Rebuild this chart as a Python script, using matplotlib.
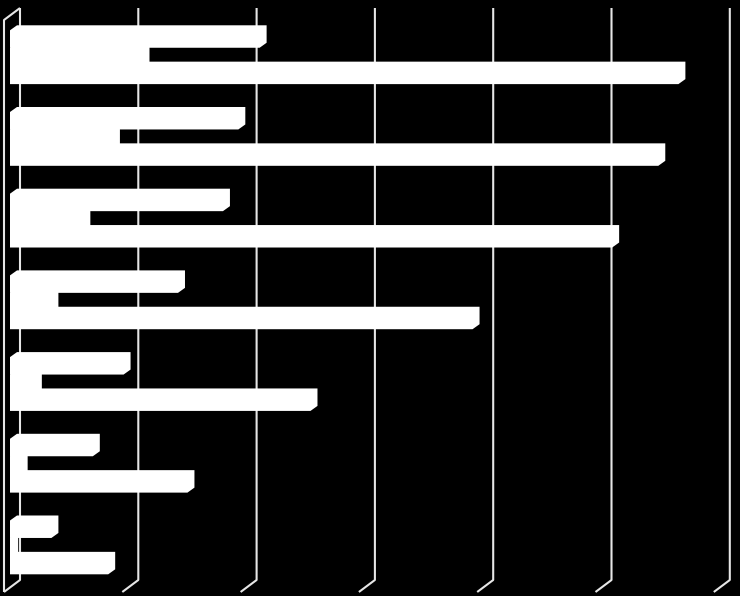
import matplotlib
matplotlib.use("Agg")
import matplotlib.pyplot as plt
import numpy as np

# values (gridlines assumed every 10 units)
categories = ["1", "2", "3", "4", "5", "6", "7"]
series_a = [21.1, 19.3, 18.0, 14.2, 9.6, 7.0, 3.5]   # upper bar
series_b = [11.2, 8.7, 6.2, 3.5, 2.1, 0.9, 0.1]      # middle bar
series_c = [56.5, 54.8, 50.9, 39.1, 25.4, 15.0, 8.3] # lower, long bar
grid_values = [0, 10, 20, 30, 40, 50, 60]

PX_X = 11.83   # pixels per value unit
PX_Y = 81.7    # pixels per category
DX, DY = 7 / PX_X, 5 / PX_Y          # bar depth
WX, WY = 16 / PX_X, 12 / PX_Y        # wall depth
BACK = 10 / PX_X                     # back wall shift
H = 0.275


def bar3d(ax, v, yc, h):
    top, bot = yc - h / 2, yc + h / 2
    xs = [0, 0, DX, v + DX, v + DX, v]
    ys = [bot, top + DY, top, top, bot - DY, bot]
    ax.fill(xs, ys, color="white", lw=0, zorder=3)


fig = plt.figure(figsize=(7.4, 5.96), dpi=100, facecolor="black")
ax = fig.add_axes([0, 0, 1, 1])
ax.set_facecolor("black")
ax.set_xlim(-10 / PX_X, 730 / PX_X)
ax.set_ylim(541.5 / PX_Y, -54.5 / PX_Y)
ax.axis("off")

y_top = -46.5 / PX_Y
y_bot = 525.5 / PX_Y
line_kw = dict(color="#e6e6e6", lw=1.5, zorder=1, solid_capstyle="butt")

for g in grid_values:
    gx = g + BACK
    ax.plot([gx, gx, gx - WX], [y_top, y_bot, y_bot + WY], **line_kw)

# left wall front edge
lx = grid_values[0] + BACK - WX
ax.plot([grid_values[0] + BACK, lx, lx], [y_top, y_top + WY, y_bot + WY], **line_kw)

y = np.arange(len(categories))
for i in range(len(categories)):
    bar3d(ax, series_b[i], y[i] + 0.01, 0.31)
    bar3d(ax, series_a[i], y[i] - 0.22, H)
    bar3d(ax, series_c[i], y[i] + 0.225, H)

fig.savefig("out.png", dpi=100, facecolor="black")
